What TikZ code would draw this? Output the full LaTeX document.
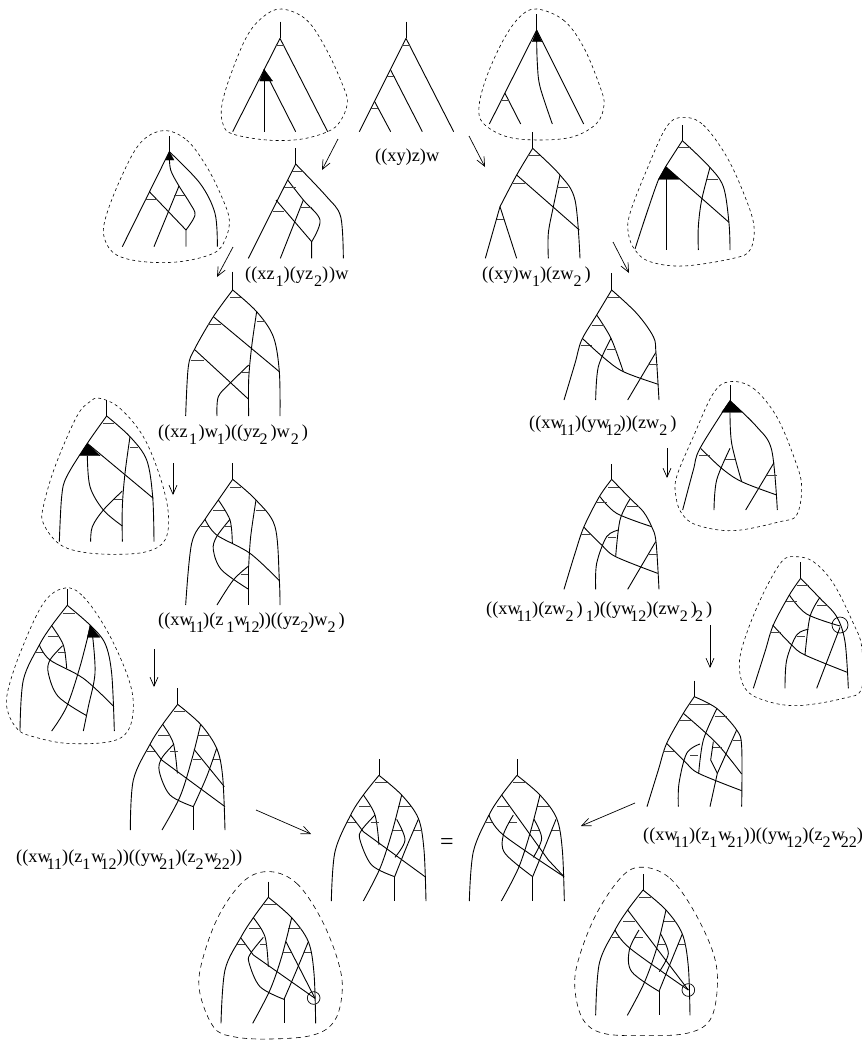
\documentclass[tikz,border=0pt]{standalone}
\usepackage{fontspec}
\setmainfont{Liberation Serif}
\usetikzlibrary{arrows.meta}
\tikzset{
  zm/.style 2 args={shift={(#1,#2)},x=0.33333pt,y=-0.33333pt},
  treeline/.style={line width=0.9pt,black,line join=round},
  barline/.style={line width=0.9pt,black!75},
  blobline/.style={line width=0.6pt,black,dash pattern=on 3pt off 3pt},
  blobwide/.style={line width=0.6pt,black,dash pattern=on 5pt off 4pt},
  arr/.style={line width=0.7pt,black,-{Straight Barb[length=9pt,width=8pt]}},
  lab/.style={anchor=base west,inner sep=0pt,font=\fontsize{18.3}{20}\selectfont},
  eqlab/.style={anchor=base west,inner sep=0pt,font=\fontsize{24}{26}\selectfont},
  ringmark/.style={line width=0.7pt,black},
  solidtip/.style={fill=black,draw=black,line width=0.3pt}
}
\newcommand\cv[1]{\draw[treeline] plot[smooth,tension=.55] coordinates{#1};}
\newcommand\pl[1]{\draw[treeline] plot coordinates{#1};}
\newcommand\hb[3]{\draw[barline] (#1,#3)--(#2,#3);}
\newcommand\blob[1]{\draw[blobline] plot[smooth cycle,tension=.6] coordinates{#1};}
\newcommand\blobw[1]{\draw[blobwide] plot[smooth cycle,tension=.6] coordinates{#1};}
\newcommand\lo[1]{\raisebox{-.42em}{\fontsize{16}{16}\selectfont #1}}
\newcommand\lk[1]{\kern-4pt\lo{#1}}
\begin{document}
\begin{tikzpicture}[x=1pt,y=-1pt]
\useasboundingbox (0,0) rectangle (862,1042);
% top-left dashed tree
\begin{scope}[zm={100}{0}]
\pl{(540,65)(540,115)}
\pl{(398,395)(540,115)(683,395)}
\hb{527}{552}{135}
\pl{(492,208)(587,395)}
\pl{(492,208)(492,395)}
\fill[solidtip] (492,208)--(479,243)--(518,243)--cycle;
\blob{(545,27)(620,60)(680,150)(730,260)(742,310)(720,365)(683,395)(600,418)(500,420)(398,402)(370,375)(365,320)(390,230)(440,110)(490,50)}
% central top tree
\pl{(918,65)(918,115)}
\pl{(778,395)(918,115)(1061,395)}
\hb{905}{930}{135}
\pl{(872,210)(967,395)}
\hb{860}{885}{230}
\pl{(823,303)(872,395)}
\hb{812}{835}{325}
% left blob
\pl{(208,408)(208,455)}
\pl{(208,455)(67,740)}
\cv{(208,455)(300,550)(345,640)(352,740)}
\cv{(208,465)(212,510)(237,558)(270,610)(285,645)(258,690)}
\pl{(162,740)(237,558)}
\hb{222}{255}{585}
\pl{(148,575)(258,690)(258,740)}
\hb{135}{170}{598}
\fill[solidtip] (208,455)--(197,480)--(222,480)--cycle;
\blob{(190,392)(260,420)(320,500)(365,590)(388,660)(375,720)(340,760)(240,785)(130,785)(50,765)(15,720)(15,660)(60,540)(120,430)}
% tree ((xz1)(yz2))w
\pl{(587,445)(587,492)}
\pl{(587,492)(445,775)}
\cv{(587,492)(680,590)(722,650)(730,775)}
\hb{577}{610}{513}
\cv{(563,540)(610,600)(660,660)(635,725)}
\hb{552}{587}{562}
\pl{(528,600)(635,725)(635,775)}
\hb{518}{552}{633}
\pl{(541,775)(610,600)}
\hb{600}{635}{621}
\end{scope}
% top-right dashed tree and ((xy)w1)(zw2)
\begin{scope}[zm={400}{0}]
\pl{(410,42)(410,90)}
\pl{(268,372)(410,90)(551,372)}
\pl{(315,280)(362,372)}
\hb{303}{327}{301}
\cv{(410,120)(412,190)(420,260)(457,372)}
\fill[solidtip] (410,90)--(397,125)--(425,125)--cycle;
\blob{(410,27)(490,60)(550,140)(600,260)(612,315)(590,370)(520,410)(420,420)(320,410)(250,370)(237,320)(260,230)(310,120)(360,50)}
\pl{(398,397)(398,445)}
\cv{(398,445)(350,525)(300,620)}
\pl{(256,775)(300,620)(350,775)}
\hb{290}{315}{657}
\cv{(398,445)(480,525)(525,600)(540,775)}
\hb{385}{420}{467}
\pl{(350,525)(538,690)}
\hb{340}{375}{550}
\cv{(480,525)(460,620)(445,700)(445,775)}
\hb{470}{505}{562}
\end{scope}
% right blob 1
\begin{scope}[zm={620}{100}]
\pl{(187,75)(187,122)}
\cv{(187,122)(137,200)(115,240)(80,340)(45,447)}
\cv{(187,122)(265,197)(310,260)(327,370)(330,450)}
\hb{172}{212}{143}
\fill[solidtip] (137,200)--(115,238)--(178,238)--cycle;
\pl{(137,200)(327,367)}
\pl{(140,238)(140,450)}
\cv{(270,202)(245,300)(235,380)(235,450)}
\hb{262}{295}{238}
\blob{(190,52)(250,75)(320,170)(375,290)(402,380)(390,450)(340,475)(190,498)(90,485)(45,450)(25,400)(30,340)(80,210)(140,80)}
\end{scope}
% zoom 3 trees
\begin{scope}[zm={0}{280}]
% ((xz1)w1)((yz2)w2)
\pl{(698,-25)(698,30)}
\cv{(698,30)(640,110)(585,205)(565,260)(557,408)}
\cv{(698,30)(770,95)(820,170)(838,275)(840,408)}
\hb{690}{722}{52}
\pl{(640,110)(838,275)}
\hb{625}{662}{133}
\cv{(770,95)(755,200)(746,300)(746,408)}
\hb{770}{795}{125}
\pl{(583,208)(746,358)}
\hb{572}{612}{242}
\cv{(651,408)(655,350)(690,310)(746,255)}
\hb{720}{746}{277}
% left blob
\pl{(320,360)(320,408)}
\cv{(320,408)(262,490)(200,590)(185,650)(178,785)}
\cv{(320,408)(390,470)(440,540)(458,650)(462,785)}
\hb{310}{342}{431}
\fill[solidtip] (262,490)--(238,527)--(300,527)--cycle;
\pl{(262,490)(460,655)}
\cv{(390,470)(375,580)(367,680)(367,785)}
\hb{390}{415}{503}
\cv{(262,527)(270,620)(310,690)(367,738)}
\cv{(272,785)(277,740)(310,690)(367,633)}
\hb{342}{367}{657}
\blob{(300,355)(360,385)(430,470)(480,590)(505,700)(495,780)(440,815)(340,823)(240,815)(175,790)(130,730)(130,680)(165,560)(230,410)(270,365)}
% ((xw11)(z1w12))((yz2)w2)
\pl{(698,550)(698,598)}
\cv{(698,598)(655,660)(615,718)(575,790)(557,975)}
\cv{(698,598)(768,660)(825,740)(838,900)(840,975)}
\hb{690}{722}{621}
\hb{640}{675}{692}
\hb{603}{628}{740}
\cv{(655,660)(690,720)(697,790)}
\hb{675}{697}{740}
\cv{(690,718)(650,770)(640,810)(665,870)(746,928)}
\cv{(615,718)(650,765)(750,820)(838,902)}
\cv{(651,975)(700,900)(746,858)}
\hb{722}{746}{882}
\pl{(746,858)(746,975)}
\hb{768}{795}{692}
\cv{(768,660)(752,770)(746,860)}
\end{scope}
% zoom 4 trees
\begin{scope}[zm={480}{280}]
% ((xw11)(yw12))(zw2)
\pl{(395,-20)(395,30)}
\cv{(395,30)(350,105)(305,180)(285,250)(252,360)}
\cv{(395,30)(470,100)(520,170)(528,220)(537,360)}
\hb{383}{417}{53}
\cv{(350,105)(393,175)(430,275)}
\hb{335}{372}{135}
\hb{302}{335}{195}
\hb{380}{408}{207}
\cv{(393,175)(355,260)(347,360)}
\cv{(307,175)(370,232)(430,275)(535,313)}
\pl{(527,218)(443,360)}
\hb{505}{535}{254}
% right blob
\pl{(750,315)(750,362)}
\cv{(750,362)(660,505)(640,570)(608,690)}
\cv{(750,362)(830,440)(875,510)(892,690)}
\fill[solidtip] (750,362)--(725,397)--(787,397)--cycle;
\cv{(750,397)(755,490)(785,605)}
\cv{(662,505)(725,565)(785,605)(890,645)}
\hb{658}{690}{527}
\cv{(750,505)(710,600)(702,690)}
\hb{735}{765}{538}
\pl{(882,548)(797,690)}
\hb{860}{890}{585}
\blob{(750,305)(820,325)(890,410)(945,540)(965,620)(950,705)(900,725)(760,752)(650,735)(605,700)(588,650)(590,590)(640,470)(700,340)}
% ((xw11)(zw2)1)((yw12)(zw2)2)
\pl{(395,552)(395,598)}
\cv{(395,598)(358,650)(312,740)(285,820)(252,928)}
\cv{(395,598)(450,655)(490,695)(515,740)(528,785)(537,928)}
\hb{385}{418}{621}
\cv{(360,650)(410,700)(515,740)}
\hb{348}{380}{668}
\cv{(450,657)(420,720)(407,830)}
\hb{442}{477}{680}
\cv{(312,742)(365,795)(407,830)(533,880)}
\hb{302}{335}{763}
\cv{(416,750)(380,770)(350,850)(347,928)}
\hb{385}{407}{772}
\pl{(527,785)(443,928)}
\hb{505}{535}{822}
\end{scope}
% right circle blob
\begin{scope}[zm={720}{540}]
\pl{(242,67)(242,115)}
\cv{(242,115)(208,165)(160,255)(135,335)(100,445)}
\cv{(242,115)(300,175)(350,230)(375,305)(385,445)}
\hb{230}{268}{137}
\cv{(208,165)(260,222)(360,258)}
\hb{197}{230}{185}
\cv{(300,172)(270,230)(255,345)}
\hb{290}{325}{195}
\cv{(158,255)(215,315)(255,345)(382,397)}
\hb{150}{182}{278}
\cv{(265,268)(230,285)(200,360)(195,445)}
\hb{230}{255}{290}
\pl{(360,262)(290,445)}
\draw[ringmark] (360,255) circle[radius=24];
\blob{(225,50)(280,65)(340,130)(400,250)(425,320)(425,445)(370,475)(230,497)(130,480)(75,445)(58,370)(80,280)(130,160)(185,65)}
\end{scope}
% zoom 5 trees
\begin{scope}[zm={0}{580}]
\pl{(202,28)(202,76)}
\cv{(202,76)(155,137)(118,195)(70,300)(60,453)}
\cv{(202,76)(270,135)(315,190)(335,280)(343,453)}
\hb{190}{225}{99}
\cv{(155,137)(190,195)(200,265)}
\hb{143}{175}{170}
\hb{107}{130}{218}
\hb{175}{197}{218}
\cv{(188,197)(150,240)(145,280)(175,350)(260,407)}
\cv{(118,195)(150,240)(250,295)(342,380)}
\fill[solidtip] (270,135)--(262,172)--(300,172)--cycle;
\cv{(272,135)(240,260)(200,380)(155,453)}
\cv{(278,170)(285,280)(265,380)(250,453)}
\blob{(195,24)(250,50)(320,150)(380,280)(400,370)(385,450)(330,485)(200,490)(100,470)(55,450)(25,400)(22,340)(60,220)(130,70)}
% ((xw11)(z1w12))((yw21)(z2w22))
\pl{(533,325)(533,373)}
\cv{(533,373)(488,433)(450,493)(400,600)(391,750)}
\cv{(533,373)(602,433)(650,505)(668,590)(675,750)}
\hb{522}{555}{395}
\cv{(488,433)(520,490)(532,580)}
\hb{475}{510}{467}
\hb{440}{465}{514}
\hb{510}{533}{514}
\cv{(522,492)(485,535)(478,575)(510,645)(580,680)}
\pl{(450,493)(485,540)(675,680)}
\hb{595}{630}{467}
\cv{(602,433)(575,540)(540,650)(486,750)}
\pl{(582,508)(673,620)}
\hb{578}{603}{537}
\hb{638}{662}{537}
\cv{(650,505)(620,590)(580,680)}
\pl{(580,680)(580,750)}
\end{scope}
% zoom 6 tree
\begin{scope}[zm={560}{570}]
\pl{(403,332)(403,380)}
\cv{(403,380)(370,430)(320,520)(295,600)(261,710)}
\cv{(403,380)(470,415)(530,480)(545,530)(545,710)}
\hb{390}{450}{403}
\cv{(370,430)(470,520)(545,612)}
\hb{358}{392}{450}
\cv{(470,417)(430,510)(416,610)}
\hb{465}{500}{438}
\cv{(320,520)(375,575)(416,610)(545,662)}
\hb{310}{342}{543}
\cv{(420,522)(380,550)(357,640)(355,710)}
\hb{390}{415}{555}
\pl{(530,480)(472,610)(450,710)}
\hb{520}{545}{510}
\pl{(460,515)(452,570)(472,610)}
\hb{460}{485}{532}
\end{scope}
% centre left
\begin{scope}[zm={180}{740}]
\pl{(597,58)(597,106)}
\cv{(597,106)(550,165)(512,225)(465,335)(454,483)}
\cv{(597,106)(665,165)(715,235)(732,330)(738,483)}
\hb{585}{620}{128}
\cv{(550,165)(585,225)(597,315)}
\hb{537}{572}{200}
\hb{502}{527}{246}
\hb{572}{597}{246}
\cv{(585,225)(545,270)(540,300)(575,375)(644,410)}
\pl{(512,225)(550,275)(735,410)}
\hb{655}{692}{200}
\cv{(665,165)(635,280)(600,385)(550,483)}
\cv{(650,238)(675,300)(645,352)}
\hb{638}{665}{270}
\hb{703}{725}{270}
\cv{(715,238)(680,320)(644,410)}
\pl{(644,410)(644,483)}
% bottom-left blob
\pl{(265,425)(265,472)}
\cv{(265,472)(220,533)(182,593)(135,690)(123,850)}
\cv{(265,472)(335,533)(385,605)(402,700)(407,850)}
\hb{253}{288}{494}
\cv{(220,533)(255,590)(265,680)}
\hb{207}{242}{566}
\hb{170}{195}{614}
\hb{240}{262}{614}
\cv{(250,592)(212,640)(207,668)(240,740)(312,778)}
\pl{(182,593)(220,645)(405,775)}
\hb{325}{362}{566}
\cv{(335,533)(305,650)(270,750)(218,850)}
\hb{308}{333}{636}
\pl{(318,605)(405,775)}
\hb{372}{393}{636}
\cv{(385,605)(350,690)(312,778)}
\pl{(312,778)(312,850)}
\draw[ringmark] (401,774) circle[radius=19];
\blobw{(272,395)(350,430)(420,530)(470,650)(487,745)(465,840)(400,885)(270,897)(160,890)(100,860)(58,750)(70,650)(120,520)(195,420)}
\end{scope}
% centre right
\begin{scope}[zm={440}{740}]
\pl{(231,58)(231,106)}
\cv{(231,106)(185,165)(147,225)(100,335)(88,483)}
\cv{(231,106)(300,165)(350,235)(367,330)(373,483)}
\hb{220}{255}{128}
\pl{(185,165)(325,360)(372,410)}
\hb{172}{208}{200}
\hb{135}{160}{246}
\hb{208}{232}{246}
\cv{(147,225)(190,285)(372,410)}
\cv{(220,225)(190,285)(195,340)(278,410)}
\hb{290}{328}{200}
\cv{(300,165)(270,280)(235,385)(184,483)}
\cv{(282,238)(305,295)(280,352)}
\hb{272}{298}{270}
\hb{337}{360}{270}
\cv{(348,238)(315,320)(278,410)}
\pl{(278,410)(278,483)}
\end{scope}
% bottom-right blob
\begin{scope}[zm={560}{860}]
\pl{(249,42)(249,90)}
\cv{(249,90)(203,150)(165,210)(118,310)(107,466)}
\cv{(249,90)(318,150)(367,222)(385,320)(390,466)}
\hb{237}{272}{111}
\pl{(203,150)(385,390)}
\hb{190}{225}{183}
\hb{155}{180}{231}
\hb{225}{248}{231}
\cv{(165,210)(210,265)(385,390)}
\cv{(237,210)(208,270)(215,335)(297,394)}
\hb{310}{347}{183}
\cv{(318,150)(290,265)(252,370)(202,466)}
\cv{(302,222)(325,280)(298,335)}
\hb{290}{317}{253}
\hb{355}{377}{253}
\cv{(367,222)(335,300)(297,394)}
\pl{(297,394)(297,466)}
\draw[ringmark] (385,390) circle[radius=19];
\blobw{(255,22)(330,55)(400,150)(460,280)(472,380)(450,480)(380,520)(250,527)(130,520)(70,480)(45,390)(55,300)(110,160)(190,45)}
\end{scope}
% arrows
\coordinate (a1s) at (338,139); \coordinate (a1e) at (322,170);
\coordinate (a2s) at (233,247); \coordinate (a2e) at (217,277);
\coordinate (a3s) at (469,136); \coordinate (a3e) at (485,167);
\coordinate (a4s) at (613,242); \coordinate (a4e) at (629,273);
\coordinate (a5s) at (173,463); \coordinate (a5e) at (173,495);
\coordinate (a6s) at (667,448); \coordinate (a6e) at (667,478);
\coordinate (a7s) at (154,649); \coordinate (a7e) at (154,687);
\coordinate (a8s) at (710,625); \coordinate (a8e) at (710,668);
\coordinate (a9s) at (256,810); \coordinate (a9e) at (311,834);
\coordinate (a10s) at (635,803); \coordinate (a10e) at (581,826);
\foreach \i in {1,...,10} \draw[arr] (a\i s) -- (a\i e);
% labels
\node[lab] (l1) at (375,161) {((xy)z)w};
\node[lab] (l2) at (245,279) {((xz\kern1pt\lo{1})(yz\kern1pt\lo{2})\kern1pt)w};
\node[lab] (l3) at (482,279) {((xy)w\lo{1})(zw\lo{2}\kern3pt)};
\node[lab] (l4) at (158,437) {((xz\kern1.5pt\lo{1}\kern1.5pt)w\kern-1pt\lo{1})((yz\kern-1pt\lo{2}\kern3pt)w\kern1pt\lo{2}\kern3pt)};
\node[lab] (l5) at (529,428) {((xw\lk{11})(yw\lk{12}\kern-2pt))(zw\lo{2}\kern3pt)};
\node[lab] (l6) at (158,625) {((xw\lk{11}\kern-1pt)(z\kern3pt\lo{1}w\lk{12}\kern-1pt))((yz\lo{2})w\lo{2}\kern3pt)};
\node[lab] (l7) at (486,614) {((xw\lk{11})(zw\lo{2}\kern3pt)\kern3pt\lo{1})((yw\lk{12})(zw\lo{2}\kern3pt)\kern-2pt\lo{2}\kern3pt)};
\node[lab] (l8) at (16,862) {((xw\lk{11})(z\lo{1}\kern1pt w\lk{12}))((yw\lk{21})(z\lo{2}\kern1pt w\lk{22}))};
\node[lab] (l9) at (643,840) {((xw\lk{11})(z\lo{1}\kern1pt w\lk{21}))((yw\lk{12})(z\lo{2}\kern1pt w\lk{22}))};
\node[eqlab] (l10) at (440,849) {=};
\end{tikzpicture}
\end{document}
